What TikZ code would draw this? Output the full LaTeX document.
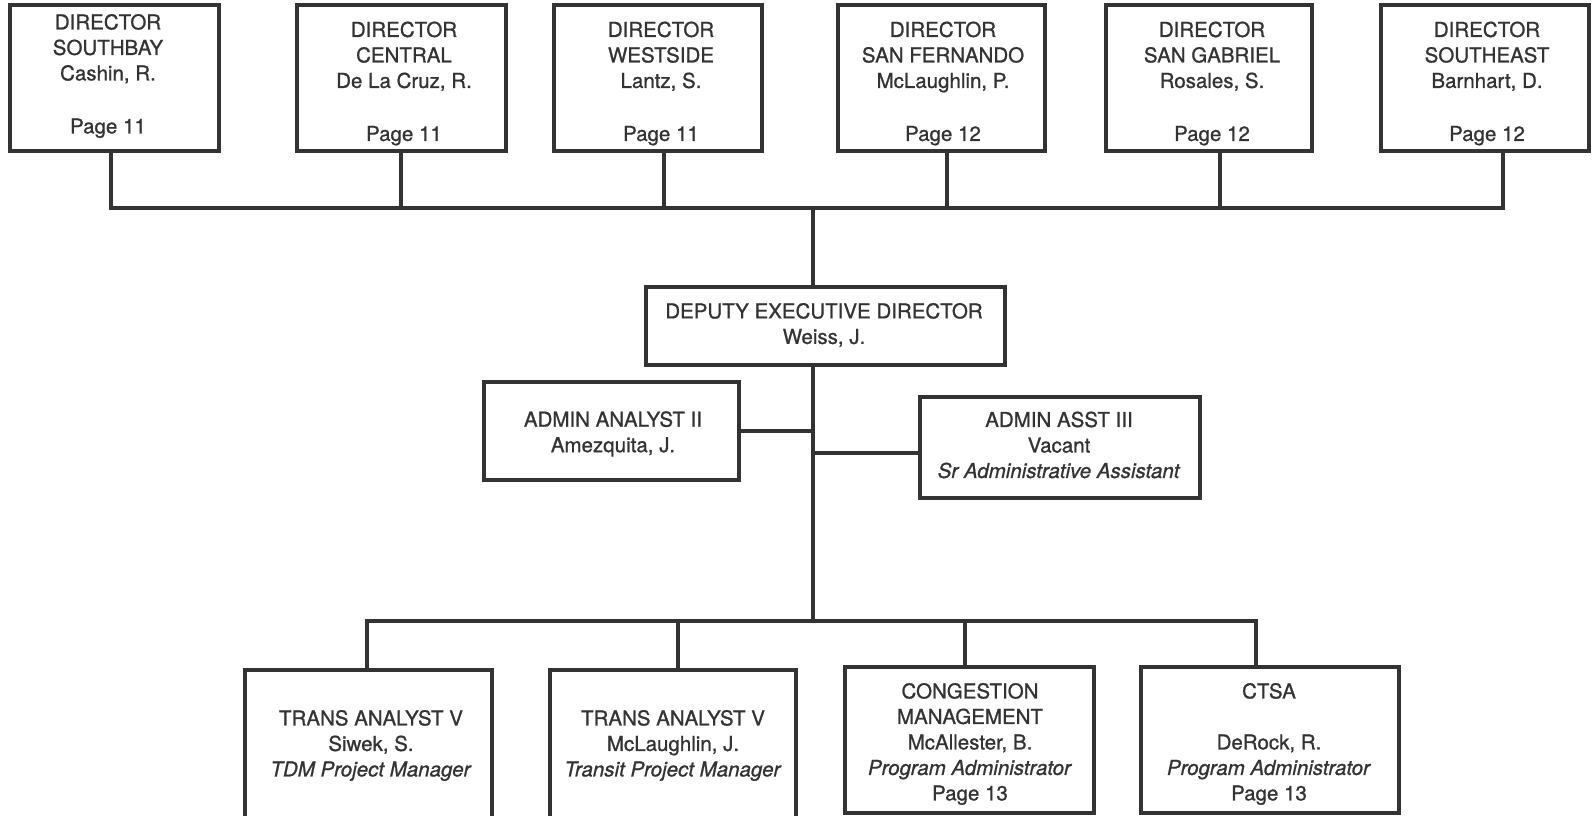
\documentclass[tikz,border=0pt]{standalone}
\usepackage{fontspec}
\setmainfont{TeX Gyre Heros}[
  BoldFont={TeX Gyre Heros}, BoldFeatures={FakeBold=0.9},
  BoldItalicFont={TeX Gyre Heros Italic}, BoldItalicFeatures={FakeBold=0.9}]
\usetikzlibrary{fit}
\definecolor{ink}{HTML}{333333}
\begin{document}
\begin{tikzpicture}[x=1pt,y=-1pt,
  box/.style={draw=ink, line width=3.2pt, inner sep=0pt},
  txt/.style={text=ink, align=center, inner sep=0pt, font=\fontsize{20.5}{25.5}\selectfont\bfseries},
  conn/.style={draw=ink, line width=3.2pt, line join=miter}]
\useasboundingbox (0,0) rectangle (1592,816);
\clip (0,0) rectangle (1592,816);
\fill[white] (0,0) rectangle (1592,816);
% top boxes
\node[box, fit={(10,5) (219,151)}] (sb) {};
\node[box, fit={(297,5) (506,151)}] (ce) {};
\node[box, fit={(554,5) (762,151)}] (ws) {};
\node[box, fit={(838,5) (1045,151)}] (sf) {};
\node[box, fit={(1106,5) (1312,151)}] (sg) {};
\node[box, fit={(1381,5) (1589,151)}] (se) {};
\node[txt] (sbt) at (108,76) {DIRECTOR\\SOUTHBAY\\Cashin, R.\\[27.5pt]Page 11};
\node[txt] (cet) at (404,83.5) {DIRECTOR\\CENTRAL\\De La Cruz, R.\\[27.5pt]Page 11};
\node[txt] (wst) at (661,83.5) {DIRECTOR\\WESTSIDE\\Lantz, S.\\[27.5pt]Page 11};
\node[txt] (sft) at (943,83.5) {DIRECTOR\\SAN FERNANDO\\McLaughlin, P.\\[27.5pt]Page 12};
\node[txt] (sgt) at (1212,83.5) {DIRECTOR\\SAN GABRIEL\\Rosales, S.\\[27.5pt]Page 12};
\node[txt] (set) at (1487,83.5) {DIRECTOR\\SOUTHEAST\\Barnhart, D.\\[27.5pt]Page 12};
% middle
\node[box, fit={(646,287) (1005,365)}] (dep) {};
\node[txt] (dept) at (824,325) {DEPUTY EXECUTIVE DIRECTOR\\Weiss, J.};
\node[box, fit={(484,382) (739,480)}] (an) {};
\node[txt] (ant) at (613,434) {ADMIN ANALYST II\\Amezquita, J.};
\node[box, fit={(920,397) (1200,498)}] (as) {};
\node[txt] (ast) at (1059,445) {ADMIN ASST III\\Vacant\\\textit{Sr Administrative Assistant}};
% bottom
\node[box, fit={(245,670) (492,830)}] (t1) {};
\node[txt] (t1t) at (371,745.5) {TRANS ANALYST V\\Siwek, S.\\\textit{TDM Project Manager}};
\node[box, fit={(550,670) (796,830)}] (t2) {};
\node[txt] (t2t) at (673,745.5) {TRANS ANALYST V\\McLaughlin, J.\\\textit{Transit Project Manager}};
\node[box, fit={(845,667) (1094,813)}] (t3) {};
\node[txt] (t3t) at (970,744) {CONGESTION\\MANAGEMENT\\McAllester, B.\\\textit{Program Administrator}\\Page 13};
\node[box, fit={(1141,667) (1399,813)}] (t4) {};
\node[txt] (t4t) at (1269,744) {CTSA\\~\\DeRock, R.\\\textit{Program Administrator}\\Page 13};
% connector coordinates
\coordinate (b1) at (111,208);
\coordinate (b2) at (401,208);
\coordinate (b3) at (664,208);
\coordinate (b4) at (947,208);
\coordinate (b5) at (1220,208);
\coordinate (b6) at (1503,208);
\coordinate (bt) at (813,208);
\coordinate (ja) at (813,431);
\coordinate (jb) at (813,453);
\coordinate (lt) at (813,621);
\coordinate (l1) at (367,621);
\coordinate (l2) at (678,621);
\coordinate (l3) at (965,621);
\coordinate (l4) at (1256,621);
% top bus
\draw[conn] (b1 |- sb.south) -- (b1) -- (b6) -- (b6 |- se.south);
\draw[conn] (b2) -- (b2 |- ce.south);
\draw[conn] (b3) -- (b3 |- ws.south);
\draw[conn] (b4) -- (b4 |- sf.south);
\draw[conn] (b5) -- (b5 |- sg.south);
\draw[conn] (bt) -- (bt |- dep.north);
% trunk
\draw[conn] (lt |- dep.south) -- (lt);
\draw[conn] (ja) -- (ja -| an.east);
\draw[conn] (jb) -- (jb -| as.west);
% lower bus
\draw[conn] (l1 |- t1.north) -- (l1) -- (l4) -- (l4 |- t4.north);
\draw[conn] (l2) -- (l2 |- t2.north);
\draw[conn] (l3) -- (l3 |- t3.north);
\end{tikzpicture}
\end{document}
